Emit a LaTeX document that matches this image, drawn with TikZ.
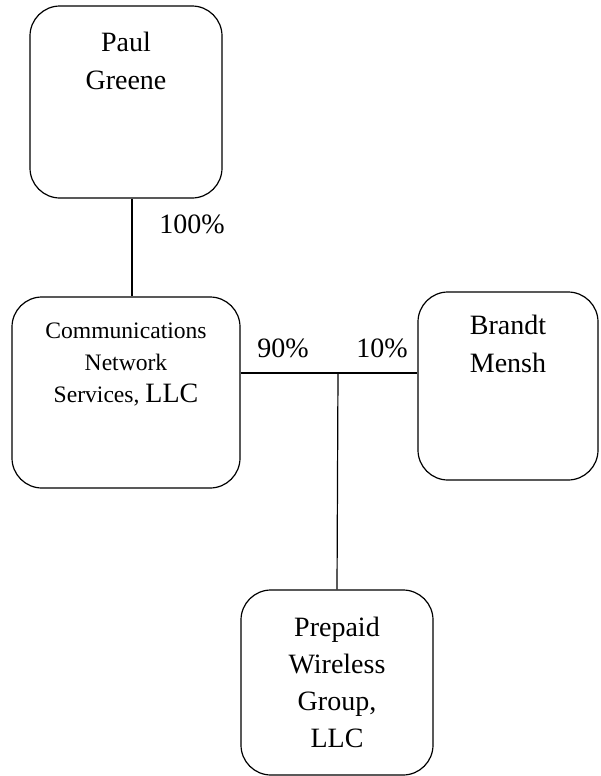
\documentclass[tikz,border=0pt]{standalone}
\usepackage{fontspec}
\setmainfont{Liberation Serif}
\usetikzlibrary{positioning}

\tikzset{
  ownerbox/.style={draw, rounded corners=15pt, line width=0.6pt, inner sep=0pt},
  ownername/.style={align=center, font=\fontsize{14}{19}\selectfont},
  sharetext/.style={font=\fontsize{14}{17}\selectfont},
}

\begin{document}
\begin{tikzpicture}[x=0.5pt, y=-0.5pt]

  \useasboundingbox (0,0) rectangle (600,776);

  \node (PG) [ownerbox, minimum width=96pt, minimum height=96pt] at (126,102) {};
  \node (CNS) [ownerbox, minimum width=114pt, minimum height=95.5pt] at (126,392.5) {};
  \node (BM) [ownerbox, minimum width=90pt, minimum height=94pt] at (508,386) {};
  \node (PWG) [ownerbox, minimum width=96pt, minimum height=92.5pt] at (337,682.5) {};

  \node (PGt) [ownername] at ([yshift=-28pt]PG.north) {Paul\\Greene};
  \node (CNSt) [ownername, font=\fontsize{11.8}{16}\selectfont] at ([yshift=-34pt]CNS.north)
    {Communications\\Network\\Services, {\fontsize{14}{16}\selectfont LLC}};
  \node (BMt) [ownername] at ([yshift=-26.5pt]BM.north) {Brandt\\Mensh};
  \node (PWGt) [ownername, font=\fontsize{14}{18.5}\selectfont] at (PWG) {Prepaid\\Wireless\\Group,\\LLC};

  \coordinate (J) at (338,373);

  \draw [line width=0.6pt] ([xshift=3pt]PG.south) -- ([xshift=3pt]CNS.north);
  \draw [line width=0.6pt] (J -| CNS.east) -- (J -| BM.west);
  \draw [line width=0.6pt] (J) -- (PWG.north);

  \node (s100) [sharetext] at (192,224) {100\%};
  \node (s90) [sharetext] at (283,348) {90\%};
  \node (s10) [sharetext] at (382,348) {10\%};

\end{tikzpicture}
\end{document}
